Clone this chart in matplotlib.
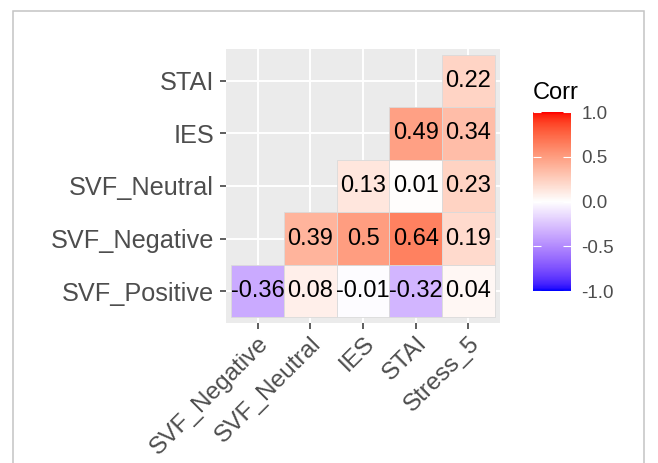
import numpy as np
import matplotlib
matplotlib.use("Agg")
import matplotlib.pyplot as plt
from matplotlib.colors import ListedColormap, Normalize
from matplotlib.patches import Rectangle

# ---- data ----
x_labels = ["SVF_Negative", "SVF_Neutral", "IES", "STAI", "Stress_5"]
y_labels = ["SVF_Positive", "SVF_Negative", "SVF_Neutral", "IES", "STAI"]
row_svf_positive = [-0.36, 0.08, -0.01, -0.32, 0.04]
row_svf_negative = [None, 0.39, 0.50, 0.64, 0.19]
row_svf_neutral = [None, None, 0.13, 0.01, 0.23]
row_ies = [None, None, None, 0.49, 0.34]
row_stai = [None, None, None, None, 0.22]
rows = [row_svf_positive, row_svf_negative, row_svf_neutral, row_ies, row_stai]
legend_title = "Corr"
legend_ticks = [-1.0, -0.5, 0.0, 0.5, 1.0]

plt.rcParams['font.family'] = ['Liberation Sans', 'DejaVu Sans']

# ---- Lab colour interpolation (like ggplot's gradient2) ----
def srgb_to_lab(rgb):
    rgb = np.asarray(rgb, float)
    lin = np.where(rgb <= 0.04045, rgb / 12.92, ((rgb + 0.055) / 1.055) ** 2.4)
    M = np.array([[0.4124564, 0.3575761, 0.1804375],
                  [0.2126729, 0.7151522, 0.0721750],
                  [0.0193339, 0.1191920, 0.9503041]])
    xyz = M @ lin
    wp = np.array([0.95047, 1.0, 1.08883])
    t = xyz / wp
    f = np.where(t > (6/29) ** 3, np.cbrt(t), t / (3 * (6/29) ** 2) + 4/29)
    return np.array([116 * f[1] - 16, 500 * (f[0] - f[1]), 200 * (f[1] - f[2])])

def lab_to_srgb(lab):
    L, a, b = lab
    fy_ = (L + 16) / 116
    fx_ = fy_ + a / 500
    fz_ = fy_ - b / 200
    def finv(f):
        return np.where(f > 6/29, f ** 3, 3 * (6/29) ** 2 * (f - 4/29))
    wp = np.array([0.95047, 1.0, 1.08883])
    xyz = np.array([finv(fx_), finv(fy_), finv(fz_)]) * wp
    Minv = np.array([[3.2404542, -1.5371385, -0.4985314],
                     [-0.9692660, 1.8760108, 0.0415560],
                     [0.0556434, -0.2040259, 1.0572252]])
    lin = Minv @ xyz
    lin = np.clip(lin, 0, 1)
    rgb = np.where(lin <= 0.0031308, 12.92 * lin, 1.055 * lin ** (1/2.4) - 0.055)
    return np.clip(rgb, 0, 1)

lab_low = srgb_to_lab([0, 0, 1])
lab_mid = srgb_to_lab([1, 1, 1])
lab_high = srgb_to_lab([1, 0, 0])
cols = []
for t in np.linspace(0, 1, 256):
    if t < 0.5:
        u = t / 0.5
        lab = lab_low + (lab_mid - lab_low) * u
    else:
        u = (t - 0.5) / 0.5
        lab = lab_mid + (lab_high - lab_mid) * u
    cols.append(lab_to_srgb(lab))
cmap = ListedColormap(cols)
norm = Normalize(-1, 1)

# ---- figure ----
fig = plt.figure(figsize=(6.58, 4.63), dpi=100)
fig.patch.set_facecolor('white')

W, H = 658, 463
def fx(px):
    return px / W
def fy(py):
    return 1 - py / H

# outer frame
fig.patches.append(Rectangle((fx(13), fy(480)), fx(644) - fx(13), fy(11) - fy(480),
                             transform=fig.transFigure, fill=False,
                             edgecolor='#C4C4C4', linewidth=1.1, zorder=0))

ax = fig.add_axes([fx(226), fy(322.7), fx(500) - fx(226), fy(49.3) - fy(322.7)])
ax.set_facecolor('#EBEBEB')
for s in ax.spines.values():
    s.set_visible(False)

ax.set_xlim(-0.6, len(x_labels) - 0.4)
ax.set_ylim(-0.6, len(y_labels) - 0.4)
ax.set_xticks(range(len(x_labels)))
ax.set_yticks(range(len(y_labels)))
ax.grid(True, color='white', linewidth=1.4)
ax.set_axisbelow(True)

for yi, row in enumerate(rows):
    for xi, v in enumerate(row):
        if v is None:
            continue
        ax.bar(xi, 1.0, bottom=yi - 0.5, width=1.0, color=cmap(norm(v)),
               edgecolor='#DADADA', linewidth=0.6, zorder=2)
        ax.text(xi, yi, f"{v:g}", ha='center', va='center', fontsize=17,
                color='black', zorder=3)

ax.set_xticklabels(x_labels, rotation=45, ha='right', va='top',
                   rotation_mode='anchor', fontsize=17.6, color='#4D4D4D')
ax.set_yticklabels(y_labels, fontsize=18.2, color='#4D4D4D')
ax.tick_params(axis='both', length=4.5, width=1.1, color='#333333', pad=4)
ax.tick_params(axis='x', pad=2.5)

# ---- colourbar legend ----
cax = fig.add_axes([fx(533), fy(291), fx(570.5) - fx(533), fy(112.3) - fy(291)])
grad = np.linspace(-1, 1, 300).reshape(-1, 1)
cax.imshow(grad, aspect='auto', cmap=cmap, norm=norm, origin='lower',
           extent=[0, 1, -1, 1])
cax.set_xlim(0, 1)
cax.set_ylim(-1, 1)
for s in cax.spines.values():
    s.set_visible(False)
cax.set_xticks([])
cax.set_yticks(legend_ticks)
cax.set_yticklabels([f"{t:.1f}" for t in legend_ticks], fontsize=13.5, color='#4D4D4D')
cax.tick_params(axis='y', direction='in', length=6, width=0.8, color='white',
                left=True, right=True, labelleft=False, labelright=True, pad=8)
fig.text(fx(533), fy(99), legend_title, fontsize=17, color='black',
         ha='left', va='baseline')

fig.savefig('out.png', dpi=100)
